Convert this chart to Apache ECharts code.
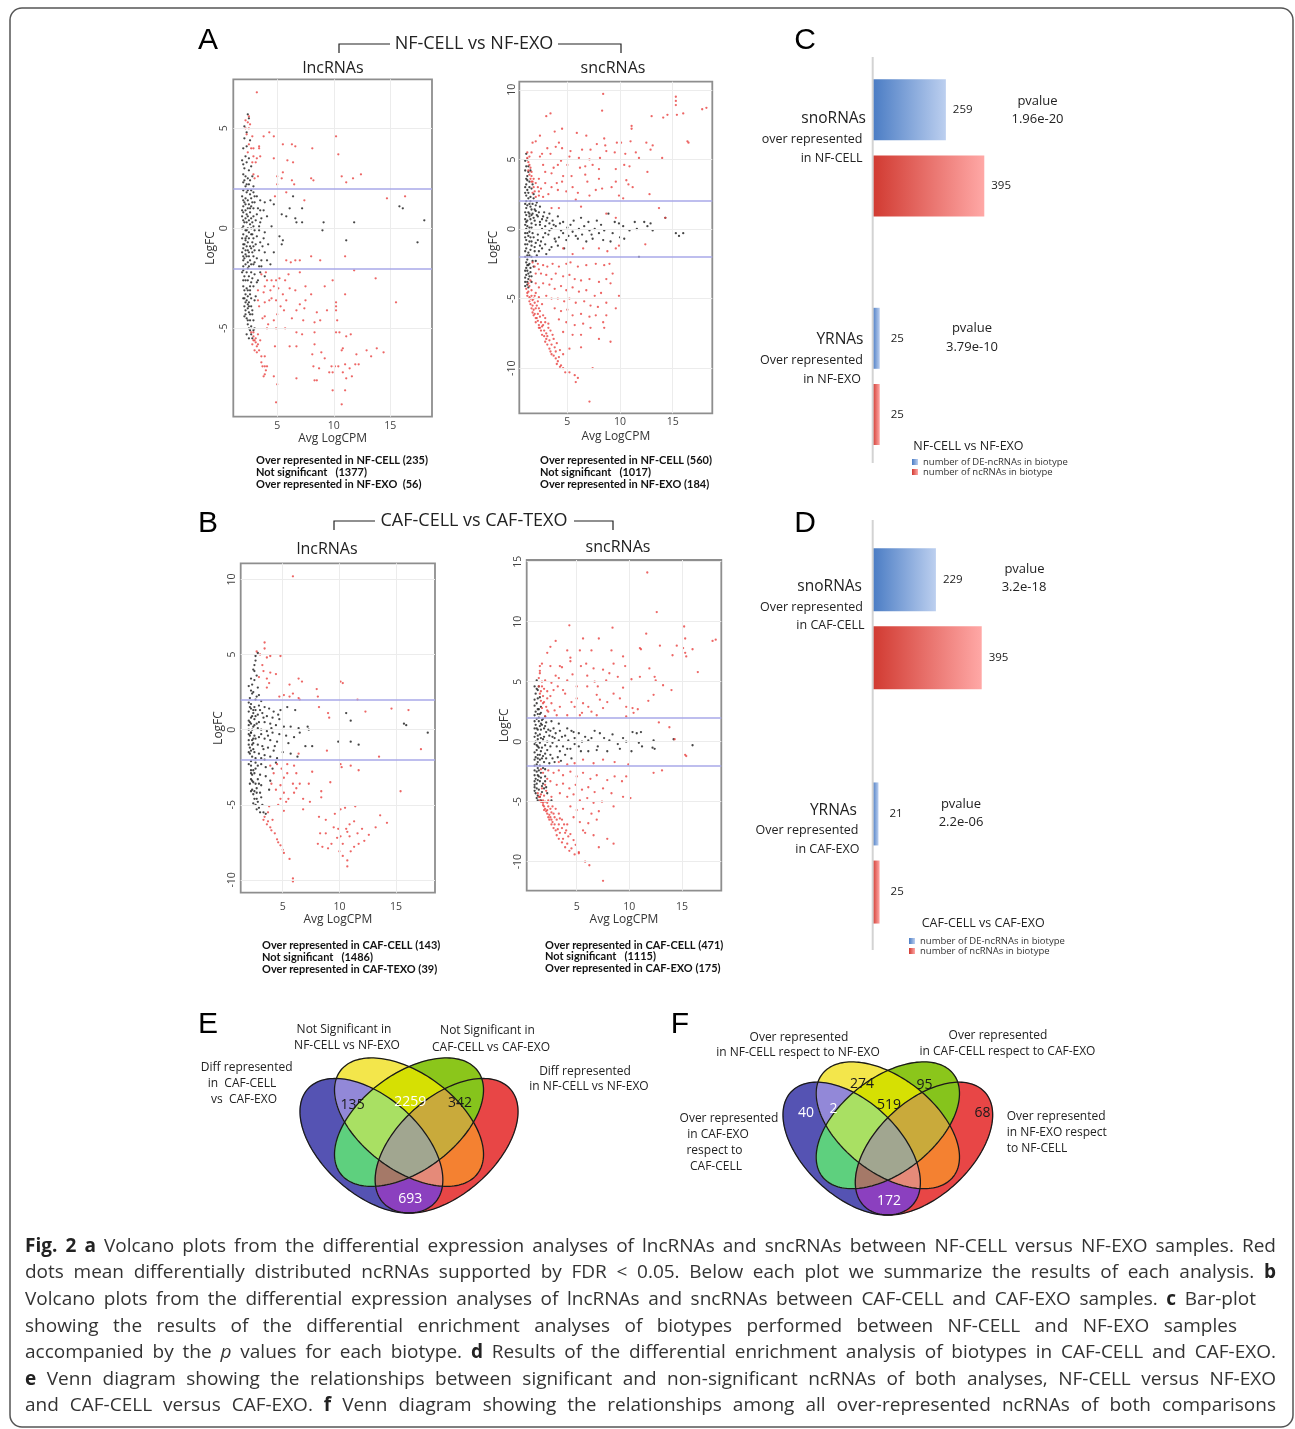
<!DOCTYPE html>
<html><head><meta charset="utf-8">
<script src="https://cdn.jsdelivr.net/npm/echarts@6/dist/echarts.min.js"></script>
<style>
html,body{margin:0;padding:0;background:#fff;}
#chart{position:absolute;left:0;top:0;width:1295px;height:1429px;}
.cap{position:absolute;left:25px;height:26px;line-height:26px;font-family:"Open Sans",sans-serif;font-size:19px;color:#333;white-space:nowrap;}
.cap b{color:#222;}
</style></head>
<body>
<div id="chart"></div>
<div class="cap" style="top:1232px" data-w="1251"><span><b>Fig. 2 a</b> Volcano plots from the differential expression analyses of lncRNAs and sncRNAs between NF-CELL versus NF-EXO samples. Red</span></div>
<div class="cap" style="top:1258px" data-w="1251"><span>dots mean differentially distributed ncRNAs supported by FDR &lt; 0.05. Below each plot we summarize the results of each analysis. <b>b</b></span></div>
<div class="cap" style="top:1285px" data-w="1231"><span>Volcano plots from the differential expression analyses of lncRNAs and sncRNAs between CAF-CELL and CAF-EXO samples. <b>c</b> Bar-plot</span></div>
<div class="cap" style="top:1312px" data-w="1212"><span>showing the results of the differential enrichment analyses of biotypes performed between NF-CELL and NF-EXO samples</span></div>
<div class="cap" style="top:1338px" data-w="1251"><span>accompanied by the <i>p</i> values for each biotype. <b>d</b> Results of the differential enrichment analysis of biotypes in CAF-CELL and CAF-EXO.</span></div>
<div class="cap" style="top:1365px" data-w="1251"><span><b>e</b> Venn diagram showing the relationships between significant and non-significant ncRNAs of both analyses, NF-CELL versus NF-EXO</span></div>
<div class="cap" style="top:1391px" data-w="1251"><span>and CAF-CELL versus CAF-EXO. <b>f</b> Venn diagram showing the relationships among all over-represented ncRNAs of both comparisons</span></div>
<script>
// ---------------- DATA ----------------
const xTicks = [5, 10, 15];
const yTicksLncA = [-5, 0, 5];
const yTicksSncA = [-10, -5, 0, 5, 10];
const yTicksLncB = [-10, -5, 0, 5, 10];
const yTicksSncB = [-10, -5, 0, 5, 10, 15];

// volcano points, flat [AvgLogCPM, LogFC, ...]
const lncA_red = [3.2,6.8,2.5,5.6,2.4,5.3,2.2,5.0,2.5,5.0,2.8,4.6,3.8,4.6,4.3,4.8,4.7,4.6,10.2,4.6,5.5,4.2,6.3,4.2,6.6,4.1,8.1,4.0,3.4,4.1,3.4,4.0,2.9,4.0,2.4,3.8,2.9,3.6,3.2,3.5,3.5,3.6,4.7,3.5,5.9,3.4,6.4,3.3,10.4,3.7,3.1,3.3,2.9,2.7,3.3,2.6,5.0,2.6,5.5,2.8,5.4,2.5,6.3,2.4,6.5,2.2,8.0,2.5,8.2,2.4,10.7,2.6,11.1,2.3,11.7,2.5,12.4,2.7,5.0,2.2,3.0,2.5,
14.7,1.5,16.3,1.6,5.8,1.8,4.8,1.6,7.4,1.4,5.8,-1.6,6.2,-1.7,6.6,-1.6,7.0,-1.6,8.0,-1.4,8.8,-1.6,11.0,-1.4,
11.8,-2.1,9.9,-2.6,13.7,-2.5,9.2,-2.9,7.0,-2.2,3.6,-2.3,4.1,-2.6,4.5,-2.6,4.9,-2.6,5.2,-2.5,5.7,-2.6,3.9,-2.9,4.7,-2.9,3.3,-3.1,3.8,-3.2,4.4,-3.1,5.1,-3.0,6.1,-3.0,6.6,-3.1,5.5,-3.3,4.3,-3.6,3.3,-3.6,3.9,-3.7,4.9,-3.6,5.8,-3.6,7.5,-3.6,6.7,-4.1,7.0,-3.8,7.4,-4.0,8.5,-4.2,9.4,-4.1,10.2,-3.7,10.2,-3.9,10.2,-4.1,11.0,-3.3,15.5,-3.7,5.6,-4.1,3.4,-3.9,3.9,-4.4,4.7,-4.6,4.1,-5.0,4.9,-5.0,5.7,-5.0,7.3,-4.6,8.3,-4.7,8.8,-4.6,6.7,-5.2,8.3,-5.2,10.2,-5.2,10.5,-5.2,11.5,-5.3,11.1,-5.4,2.9,-5.4,3.0,-5.6,3.1,-5.7,3.2,-5.9,2.9,-5.2,4.8,-5.9,6.1,-5.9,6.7,-5.9,8.3,-5.8,10.8,-6.0,10.7,-6.1,12.9,-6.1,13.3,-6.4,13.8,-6.0,14.4,-6.2,3.2,-6.2,3.6,-6.4,3.9,-6.4,8.1,-6.3,8.9,-6.2,12.2,-6.8,11.9,-6.8,11.0,-6.8,11.4,-7.0,10.1,-6.9,9.8,-6.9,10.4,-6.9,8.2,-6.9,3.9,-6.9,4.1,-6.9,9.6,-7.2,9.9,-7.2,10.8,-7.2,11.1,-7.5,11.6,-7.4,3.9,-7.3,3.8,-7.4,4.7,-7.4,6.7,-7.5,8.3,-7.6,8.5,-7.6,5.0,-7.8,9.9,-8.1,11.0,-8.1,4.9,-8.7,10.7,-8.8,2.7,-5.2,2.8,-5.8,3.0,-6.1,
2.9,-5.6,3.1,-5.5,3.3,-5.8,3.4,-6.1,3.6,-6.7,3.7,-6.9,4.0,-7.1,3.5,-5.6,3.3,-5.3,2.2,5.4,2.6,5.2,2.3,4.7,2.5,4.2,2.8,3.3,2.7,4.0,4.0,-2.2,4.5,-3.5,5.3,-3.9,4.2,-4.8,3.7,-4.5,6.3,-4.5,5.0,-4.3,6.0,-2.3,7.5,-2.9,8.0,-3.3,10.3,-4.6,12.0,-6.3,9.2,-6.5,8.7,-7.0,7.2,-5.3];
const lncA_black = [2.5,5.5,2.3,4.8,2.1,4.5,2.0,4.0,2.2,3.6,2.5,3.5,2.7,3.1,2.0,2.7,2.2,2.6,2.4,2.5,2.0,2.3,2.3,2.2,2.2,2.1,2.9,2.1,2.6,2.4,2.1,3.0,
2.0,1.9,2.3,1.8,2.6,1.7,2.9,1.8,3.2,1.6,2.2,1.5,2.4,1.4,2.7,1.5,3.0,1.3,3.5,1.4,3.9,1.3,4.4,1.4,2.0,1.1,2.4,1.0,2.7,1.1,2.9,1.0,3.3,1.0,3.8,0.9,4.7,1.2,6.4,1.6,6.1,1.0,7.2,1.0,5.4,0.7,5.8,0.6,6.6,0.5,6.7,0.3,7.2,0.3,9.1,0.3,9.0,-0.1,11.8,0.3,18.0,0.4,17.4,-0.7,11.1,-0.6,15.8,1.1,16.1,1.0,
2.0,0.8,2.3,0.7,2.6,0.8,2.9,0.6,3.2,0.7,3.6,0.5,4.1,0.6,2.2,0.5,2.5,0.4,2.8,0.3,3.1,0.4,3.5,0.3,4.5,0.1,2.0,0.1,2.4,0.0,2.7,0.0,3.0,-0.1,3.4,-0.1,3.9,-0.2,2.0,-0.3,2.3,-0.4,2.7,-0.3,2.9,-0.5,3.2,-0.4,3.8,-0.5,5.2,-0.4,5.5,-0.6,2.2,-0.6,2.4,-0.7,2.8,-0.7,3.1,-0.8,3.5,-0.7,4.2,-0.8,5.4,-0.8,2.0,-1.0,2.4,-1.1,2.7,-1.0,3.0,-1.1,3.4,-1.1,3.9,-1.2,4.7,-1.2,2.2,-1.3,2.5,-1.4,2.9,-1.4,3.2,-1.5,3.6,-1.6,4.1,-1.6,2.0,-1.6,2.4,-1.7,2.7,-1.8,3.0,-1.7,3.4,-1.9,4.4,-1.8,2.0,-1.9,2.5,-1.9,2.1,1.3,2.1,0.3,2.1,-0.8,2.1,-1.5,2.2,0.9,2.3,-0.1,2.5,-1.2,
2.0,-2.1,2.3,-2.2,2.7,-2.2,3.0,-2.3,3.5,-2.2,3.9,-2.4,2.2,-2.6,2.4,-2.6,2.8,-2.5,3.2,-2.7,2.0,-2.9,2.3,-3.0,2.6,-3.1,2.9,-2.9,2.2,-3.3,2.4,-3.4,2.7,-3.5,3.1,-3.4,2.2,-3.7,2.4,-3.8,2.7,-3.9,2.2,-4.1,2.5,-4.2,2.8,-4.3,2.3,-4.5,2.6,-4.6,2.9,-4.6,2.4,-4.8,2.7,-4.9,2.6,-5.1,2.9,-5.1,2.1,-2.4,2.1,-3.5,2.1,-4.4,2.3,-5.3,2.5,-5.5,2.6,-2.9,2.5,-3.7,2.4,-4.0,
1.9,3.4,2.0,3.2,2.3,3.3,2.1,2.4,2.5,2.2,2.4,1.9,2.7,1.9,1.9,1.6,2.8,1.3,2.0,1.4,2.5,1.2,2.2,1.2,1.9,0.9,2.6,1.0,2.4,0.6,2.7,0.5,1.9,0.6,2.0,0.4,2.3,0.3,2.6,0.2,2.9,0.1,1.9,0.0,2.2,-0.1,2.5,-0.2,2.8,-0.3,1.9,-0.5,2.2,-0.5,2.5,-0.5,2.0,-0.8,2.3,-0.9,2.6,-0.9,2.9,-0.9,1.9,-1.2,2.2,-1.1,2.8,-1.2,2.0,-1.4,2.3,-1.4,2.6,-1.6,2.2,-1.8,2.9,-1.8,1.9,-2.2,2.4,-2.0,2.5,-2.4,2.0,-2.6,2.7,-2.7,2.1,-3.1,2.4,-3.1,2.0,-3.5,2.3,-3.6,2.6,-3.3,2.1,-3.9,2.5,-3.9,2.2,-4.3,2.6,-4.3,2.4,-4.6,2.5,-5.0,2.7,-5.3,2.8,-5.5,3.0,-5.0,2.8,-4.1,3.0,-3.6,3.3,-2.6,3.6,-1.9,3.7,-0.9,3.4,0.1,3.5,0.9,3.0,1.6,2.8,2.6,2.5,2.9,2.3,4.1,2.6,4.4,2.1,5.1,2.4,5.7];

const sncA_red = [8.4,9.7,15.3,9.5,15.3,9.2,15.3,8.9,17.8,8.6,18.2,8.7,8.3,8.5,15.4,8.2,16.0,8.3,14.5,8.2,14.1,8.0,13.0,8.1,11.1,7.4,11.1,7.2,3.4,8.3,3.0,8.1,4.5,7.2,3.8,7.0,5.9,6.9,6.8,6.7,7.8,6.1,8.5,6.5,9.7,6.2,10.1,6.2,11.0,6.3,12.5,6.2,13.1,6.0,12.9,5.7,16.4,6.3,16.5,6.2,2.0,6.3,1.7,6.2,2.4,6.7,4.2,6.2,3.1,5.8,3.4,5.4,4.5,5.8,5.3,5.6,6.4,5.7,7.2,5.7,8.6,6.0,8.7,5.6,9.5,5.5,10.5,5.4,11.5,5.5,11.8,5.1,14.0,5.1,8.1,5.1,5.2,5.2,6.1,5.1,7.1,5.0,2.4,5.2,2.7,4.6,1.6,5.5,1.4,5.2,4.1,4.6,5.0,4.6,6.2,4.4,6.7,4.5,8.0,4.3,9.6,4.3,10.4,4.6,10.9,4.5,12.6,4.1,2.9,4.1,3.5,4.0,4.6,3.8,5.4,3.8,6.9,3.4,8.0,3.6,9.2,3.0,9.6,3.4,10.6,3.5,10.8,3.2,11.2,3.0,12.8,2.5,2.3,3.6,1.7,3.4,4.0,3.3,4.5,3.4,3.5,3.0,5.5,3.0,7.7,2.8,8.3,2.9,9.9,2.4,10.3,2.2,2.3,2.7,2.7,2.3,4.1,2.8,4.9,2.7,6.0,2.6,7.1,2.4,
13.7,1.5,14.3,0.8,3.5,1.5,4.2,1.5,6.3,1.6,8.7,1.1,9.6,0.8,9.9,-1.2,9.6,-1.4,8.8,-1.6,12.4,-1.1,6.5,-1.4,8.0,-1.4,5.5,-1.8,4.6,-1.4,
1.1,-4.3,1.2,-4.8,1.4,-5.2,1.6,-5.7,1.8,-6.2,2.0,-6.7,2.3,-7.1,2.6,-7.6,2.9,-8.1,3.3,-8.6,3.7,-9.1,4.1,-9.5,4.6,-10.0,5.2,-10.3,5.7,-10.5,5.8,-11.0,7.1,-12.4,
1.3,-4.5,1.6,-4.8,1.7,-5.1,1.5,-5.0,1.9,-5.3,2.0,-5.7,1.8,-5.8,2.2,-6.1,2.4,-6.3,2.1,-6.4,2.5,-6.7,2.7,-6.9,2.8,-7.3,2.4,-7.1,3.0,-7.5,3.1,-7.7,3.3,-8.0,3.5,-8.3,3.8,-8.5,3.9,-8.8,4.2,-9.2,3.6,-7.6,3.2,-7.1,2.9,-6.7,2.7,-6.2,2.3,-5.7,2.2,-5.2,1.9,-4.8,1.6,-4.4,1.4,-4.1,
1.7,-2.4,2.2,-2.5,2.7,-2.6,3.1,-2.7,3.6,-2.5,4.2,-2.7,4.9,-2.5,5.3,-2.4,6.0,-2.7,6.8,-2.6,7.7,-2.5,8.5,-2.6,9.0,-2.5,9.3,-3.2,2.5,-3.2,3.0,-3.3,3.5,-3.6,3.9,-3.2,4.6,-3.4,5.2,-3.3,5.7,-3.6,6.3,-3.7,7.1,-3.6,8.0,-3.8,8.7,-3.6,9.1,-3.9,2.7,-3.9,3.3,-4.0,3.8,-4.3,4.4,-4.1,4.9,-4.4,5.5,-4.2,6.1,-4.5,6.8,-4.4,7.6,-4.8,8.2,-4.6,9.9,-4.8,3.0,-4.8,3.5,-5.0,4.1,-5.0,4.7,-5.2,5.2,-5.0,5.8,-5.3,6.6,-5.2,7.2,-5.5,7.9,-5.6,8.7,-5.3,9.6,-5.7,3.8,-5.7,4.4,-5.9,5.0,-5.8,5.5,-6.2,6.3,-6.1,7.1,-6.3,7.7,-6.2,8.4,-6.7,4.2,-6.5,4.9,-6.7,5.7,-6.9,6.5,-6.8,7.2,-7.1,8.5,-7.1,8.7,-6.2,4.6,-7.4,5.5,-7.6,6.3,-7.6,8.0,-7.9,9.1,-8.1,6.3,-8.5,5.2,-8.6,7.4,-10.0,6.0,-10.7,4.8,-10.3,4.3,-9.9,
1.2,5.5,1.3,4.8,1.5,4.4,1.6,3.8,1.6,3.4,1.8,3.0,1.9,2.7,2.0,2.3,2.3,2.4,1.4,4.6,1.6,4.1,2.2,3.0,
1.2,-4.6,1.4,-4.9,1.5,-5.4,1.7,-5.5,1.7,-6.0,1.9,-6.1,2.0,-6.4,2.2,-6.6,2.3,-6.9,2.5,-7.3,2.6,-7.0,2.8,-7.7,3.0,-7.9,3.1,-8.3,3.4,-8.8,3.5,-9.0,3.9,-9.3,4.0,-9.7,4.4,-9.8,2.1,-5.5,2.4,-5.9,2.6,-5.4,2.9,-6.4,3.2,-6.8,3.4,-7.3,3.7,-7.9,4.0,-8.2,4.3,-8.7,4.6,-9.0,1.8,-5.0,2.0,-4.6,2.3,-4.9,1.3,-3.9,1.5,-3.7,2.0,-3.9,2.3,-4.2,2.0,-3.2,2.3,-2.9,1.9,-2.7,1.2,5.1,1.3,4.2,1.5,3.6,1.4,3.9,1.7,2.6,1.8,3.6,2.0,3.3,2.5,2.9,2.9,3.3,3.2,2.5,2.6,5.4,3.7,4.4,4.4,4.9,3.9,5.9,6.7,3.9,7.4,4.6,5.8,2.1];
const sncA_black = [1.1,5.4,1.2,5.0,1.1,4.5,1.3,4.1,1.1,3.6,1.4,3.4,1.1,3.2,1.2,2.8,1.6,2.9,1.1,2.4,1.5,2.3,1.8,2.2,1.1,2.0,1.4,1.8,1.7,1.8,2.0,1.7,2.4,1.6,1.1,1.5,1.6,1.4,2.0,1.3,2.3,1.2,2.8,1.2,3.3,1.1,1.1,1.0,1.4,0.9,1.8,0.8,2.2,0.9,2.6,0.7,3.1,0.8,3.6,0.6,4.1,0.9,4.6,0.5,1.1,0.5,1.6,0.4,2.0,0.3,2.4,0.3,2.9,0.2,3.5,0.0,3.9,0.2,4.4,-0.1,5.0,0.1,5.5,-0.2,6.1,0.0,6.6,0.2,7.1,-0.1,7.6,0.0,8.0,-0.3,8.5,-0.1,8.9,1.1,9.5,0.5,9.9,0.4,10.3,0.2,10.9,-0.1,11.4,0.5,12.3,0.5,12.6,0.2,13.1,-0.1,14.3,0.8,15.3,-0.3,15.6,-0.5,16.0,-0.3,11.8,-2.0,1.1,0.0,1.4,-0.2,1.7,-0.3,2.2,-0.4,2.7,-0.6,3.2,-0.4,3.8,-0.7,4.2,-0.6,4.9,-0.8,6.0,-0.7,6.8,-0.9,7.4,-0.7,8.4,-0.8,9.1,-0.9,10.4,-0.7,1.1,-0.8,1.6,-0.9,2.0,-1.0,2.4,-1.2,2.9,-1.1,3.5,-1.3,4.1,-1.2,4.7,-1.4,1.1,-1.4,1.5,-1.5,1.9,-1.6,2.3,-1.6,3.0,-1.8,1.2,-1.9,1.6,-2.0,2.1,-1.9,1.1,-2.4,1.4,-2.5,1.8,-2.7,1.1,-2.8,1.5,-3.1,1.1,-3.3,1.3,-3.6,1.0,-3.8,1.2,-4.0,1.6,-3.8,
1.3,1.2,1.2,0.2,1.3,-0.5,1.2,-1.1,1.3,-1.7,1.2,-2.2,1.3,-2.6,1.2,-3.0,1.4,-3.4,1.2,3.8,1.3,2.6,1.5,2.0,1.7,1.1,1.9,0.6,1.8,-0.6,1.9,-1.3,2.5,-0.9,2.6,0.0,2.9,-0.3,3.3,0.4,5.3,0.3,5.8,-0.5,6.4,-0.4,7.8,0.6,9.3,-0.3,10.0,-0.6,11.6,0.0,12.9,0.4,1.5,4.2,1.7,3.2,
1.0,4.9,1.3,4.5,1.0,4.2,1.2,3.5,1.0,3.0,1.4,3.0,1.0,2.6,1.3,2.2,1.0,1.8,1.2,1.7,1.5,1.6,1.0,1.2,1.4,1.1,1.6,1.0,1.0,0.7,1.2,0.6,1.5,0.7,1.0,0.3,1.4,0.1,1.6,0.1,1.0,-0.3,1.2,-0.3,1.5,-0.6,1.0,-0.6,1.4,-0.9,1.0,-1.1,1.6,-1.2,1.0,-1.6,1.4,-1.9,1.0,-2.0,1.2,-2.6,1.0,-3.0,1.3,-3.2,1.0,-3.5,1.2,-3.8,1.0,-4.1,1.3,-4.2,2.1,1.0,2.4,0.5,2.7,0.9,3.0,0.6,3.3,-0.1,3.7,0.3,4.3,0.4,4.6,-0.3,5.1,-0.5,5.6,0.6,6.3,0.8,7.0,0.5,7.3,-0.4,8.2,0.3,2.2,-0.8,2.6,-1.4,3.3,-1.5,3.9,-0.9,2.0,-2.3,1.7,-2.3,1.5,-2.8,1.6,-3.4,2.1,1.9,1.8,2.5,1.9,1.4];

const lncB_red = [5.9,10.2,3.4,5.8,2.7,5.2,3.4,5.4,3.9,4.9,4.8,4.9,3.6,4.8,3.3,3.9,3.9,3.8,4.4,3.7,3.6,3.4,3.8,3.1,6.4,3.4,6.7,3.2,5.6,3.0,8.0,2.7,8.1,2.2,10.1,3.2,10.3,3.1,3.6,2.8,4.7,2.2,5.1,2.3,5.6,2.2,5.9,2.4,6.4,2.1,6.5,2.0,11.6,2.0,9.0,1.1,9.1,0.8,12.3,1.2,14.6,1.4,16.1,1.3,8.2,1.5,8.9,-1.4,13.5,-1.8,17.2,-1.3,6.4,-1.6,10.1,-2.3,10.2,-2.5,11.0,-2.4,11.7,-2.7,9.2,-3.5,15.4,-4.1,5.4,-2.3,4.9,-2.6,4.2,-2.9,5.4,-2.9,5.1,-3.2,6.2,-2.9,4.0,-3.6,4.8,-3.7,5.9,-3.6,6.5,-3.6,7.3,-3.6,4.4,-4.0,5.1,-4.2,6.0,-4.2,6.8,-4.6,7.4,-4.8,8.4,-4.1,8.4,-4.5,4.8,-4.6,5.3,-4.8,6.8,-5.3,5.1,-5.4,8.2,-5.8,8.8,-6.0,10.1,-5.3,10.5,-5.2,11.4,-5.1,13.6,-5.7,14.2,-6.2,9.5,-6.5,9.9,-6.6,10.6,-6.6,10.7,-6.8,10.1,-7.1,10.9,-7.1,8.3,-6.9,8.8,-6.9,11.6,-6.9,12.2,-7.4,11.7,-7.6,11.3,-7.8,10.3,-7.6,9.8,-7.2,12.6,-7.0,13.2,-6.5,9.3,-7.6,8.5,-7.8,8.1,-7.6,10.3,-8.4,10.7,-8.7,10.7,-9.1,11.0,-8.1,3.4,-5.8,3.7,-6.1,3.9,-6.5,4.0,-6.7,4.5,-7.3,4.8,-7.7,5.0,-8.0,5.1,-8.2,5.6,-8.6,5.9,-9.9,5.9,-10.1,3.3,-6.0,3.6,-6.3,
3.0,5.0,3.2,4.3,2.9,3.5,3.7,-5.5,4.1,-6.0,4.3,-6.9,4.6,-7.5,3.8,-5.1,4.6,-5.0,5.5,-4.6,6.2,-3.9,7.6,-2.8,6.0,-2.4,4.5,-2.3,3.9,-2.4,9.6,-5.6,10.9,-6.3,11.3,-6.1,12.0,-6.6,9.0,-7.9,10.0,-8.1];
const lncB_black = [2.6,4.6,2.5,4.3,2.5,3.9,2.2,3.4,2.5,3.3,2.0,2.9,2.8,2.8,2.4,2.5,2.9,2.3,2.1,2.1,2.6,2.0,3.1,1.9,2.2,1.7,2.5,1.5,2.9,1.6,3.4,1.5,3.8,1.4,4.2,1.2,4.8,1.3,5.4,1.5,6.1,1.3,2.0,1.2,2.4,1.1,2.8,1.0,3.2,1.1,3.6,0.9,4.1,0.8,4.7,0.7,2.2,0.8,2.5,0.7,2.9,0.5,3.4,0.5,3.9,0.4,4.4,0.3,5.1,0.2,5.7,0.2,6.4,0.1,7.2,0.2,7.3,0.0,2.0,0.3,2.4,0.2,2.8,0.1,3.1,0.0,3.6,-0.1,4.1,-0.2,4.7,-0.3,5.3,-0.4,6.0,-0.5,7.0,-1.1,7.6,-1.1,9.9,-0.8,11.0,-0.8,11.7,-1.0,10.6,1.1,11.0,0.6,15.7,0.4,15.9,0.3,17.8,-0.2,2.2,-0.2,2.5,-0.4,2.9,-0.5,3.4,-0.6,3.9,-0.7,4.5,-0.8,2.0,-0.7,2.4,-0.9,2.8,-1.0,3.2,-1.1,3.7,-1.2,4.2,-1.4,5.0,-1.5,5.7,-1.6,6.3,-1.8,2.1,-1.2,2.5,-1.5,2.9,-1.6,3.4,-1.7,3.9,-1.8,4.5,-1.9,2.2,-2.1,2.6,-2.2,3.1,-2.3,3.5,-2.5,4.1,-2.6,2.2,-2.7,2.5,-2.9,3.0,-3.0,3.5,-3.1,2.2,-3.3,2.6,-3.6,3.1,-3.7,3.8,-4.0,2.3,-4.0,2.7,-4.2,3.1,-4.5,2.5,-4.6,2.8,-4.8,3.2,-5.0,2.9,-5.2,3.3,-5.5,3.5,-5.6,
2.1,-0.4,2.1,0.5,2.1,1.5,2.1,-1.6,2.2,-2.4,2.3,-3.0,2.4,-3.5,2.4,-4.3,2.6,-5.0,2.3,2.4,2.3,0.0,2.3,-1.0,2.6,-1.9,2.6,-2.6,2.8,-3.3,2.7,-3.9,2.6,1.3,2.7,0.4,2.6,-0.6,
2.0,1.8,2.2,1.4,2.4,1.3,2.3,0.9,2.6,0.9,2.0,0.6,2.2,0.4,2.5,0.3,2.0,0.0,2.2,-0.2,2.4,-0.6,2.0,-0.3,2.3,-0.7,2.0,-1.0,2.2,-1.4,2.4,-1.3,2.0,-1.5,2.3,-1.8,2.0,-2.3,2.2,-2.9,2.4,-2.7,2.1,-3.6,2.3,-3.4,2.2,-4.1,2.5,-4.1,2.4,-4.9,2.7,-4.6,2.7,-5.3,3.0,-5.5,3.0,-4.2,2.9,-3.6,2.8,-2.4,3.1,-1.9,3.3,-1.3,3.1,-0.3,3.3,0.8,3.0,1.3,2.7,2.2,2.2,2.6,2.3,3.0,2.7,3.6,2.4,4.0,2.6,4.9,2.8,5.1,3.4,-2.0,3.7,-0.4,4.0,0.1,4.3,-1.1,4.6,1.0,5.5,-0.9,6.5,-0.2,3.9,-3.4,4.4,-2.2];

const sncB_red = [11.7,14.1,12.6,10.8,4.3,9.7,8.4,9.5,15.2,9.6,15.3,8.6,11.6,9.0,5.6,8.6,7.1,8.6,3.0,8.4,17.9,8.4,18.2,8.5,11.0,7.8,11.1,7.7,12.9,8.0,14.5,8.0,15.1,7.8,16.0,7.7,15.3,7.4,15.4,7.1,14.1,7.2,2.5,7.9,2.2,7.4,4.1,7.6,5.3,7.6,6.4,7.6,8.3,7.6,9.4,7.1,4.4,7.0,4.4,6.7,1.7,6.5,1.5,5.9,2.5,6.3,3.4,6.3,3.6,6.2,5.4,6.3,5.9,6.5,6.6,6.1,7.5,6.0,8.5,6.5,9.6,6.3,11.9,6.1,16.5,5.8,12.4,5.4,12.5,5.1,13.2,4.7,14.0,4.3,11.8,3.4,12.3,3.9,11.0,5.4,10.2,5.2,9.4,4.5,8.9,5.4,8.1,5.7,7.8,5.1,6.7,5.0,6.0,4.6,5.0,4.6,4.1,5.1,3.3,5.3,2.6,4.9,2.0,5.1,1.7,4.6,2.2,4.2,2.8,4.3,3.7,4.3,4.5,3.3,5.6,3.2,6.1,2.9,6.9,3.9,7.2,3.5,7.9,3.3,8.5,4.0,9.1,3.6,9.7,2.9,10.3,2.8,10.8,2.7,10.4,2.4,9.7,2.1,7.5,2.8,6.4,2.5,5.5,2.4,4.8,2.9,3.4,2.9,2.6,3.2,2.2,2.6,3.1,2.2,4.1,2.2,1.8,3.2,2.0,2.1,
12.8,1.6,13.8,1.2,14.3,0.2,15.3,-1.1,15.4,-1.2,12.3,-2.6,13.1,-2.4,5.6,-1.5,4.8,-1.8,6.6,-1.8,7.5,-1.5,8.6,-1.7,9.9,-1.9,4.1,-1.9,3.3,-1.7,
1.4,-4.6,1.5,-4.9,1.8,-5.3,2.0,-5.6,2.2,-6.0,2.5,-6.3,2.7,-6.7,2.9,-6.9,3.2,-7.3,3.4,-7.6,3.7,-8.1,4.1,-8.5,4.5,-8.9,5.2,-9.3,5.8,-10.0,6.2,-10.3,7.5,-11.6,
1.7,-5.0,1.9,-5.4,2.2,-5.7,2.4,-6.1,2.6,-6.5,2.8,-6.0,3.1,-6.5,3.3,-6.9,3.6,-7.2,3.9,-7.6,2.5,-5.6,2.2,-5.1,1.8,-4.9,1.6,-4.4,2.3,-4.9,2.7,-5.4,3.3,-6.0,3.6,-6.5,4.1,-6.9,4.2,-7.9,4.7,-8.2,
2.3,-2.4,2.8,-2.6,3.3,-2.4,3.7,-2.8,4.4,-2.5,5.0,-2.9,5.6,-2.6,6.3,-3.1,6.9,-2.8,7.9,-3.2,8.6,-2.9,9.3,-3.3,9.7,-2.9,2.5,-3.3,3.1,-3.6,3.7,-3.5,4.3,-3.9,4.9,-3.6,5.5,-4.0,6.1,-3.8,6.7,-4.2,7.5,-3.9,8.3,-4.3,9.4,-4.6,10.1,-4.7,3.4,-4.3,4.1,-4.6,4.7,-4.4,5.3,-4.9,6.0,-4.7,6.6,-5.1,7.4,-5.0,8.5,-5.4,4.4,-5.4,5.0,-5.7,5.6,-5.6,6.4,-6.0,7.1,-5.8,4.7,-6.3,5.3,-6.7,6.1,-6.8,6.9,-6.5,5.6,-7.4,5.8,-7.6,6.6,-7.8,7.9,-8.1,7.1,-8.8,8.5,-8.5,5.2,-9.2,
1.5,5.7,1.4,5.3,1.6,4.2,1.8,3.8,1.9,3.3,2.1,2.9,2.3,2.5,1.7,2.8,1.5,6.3,
1.3,-4.3,1.5,-4.6,1.6,-5.0,1.8,-5.1,1.9,-5.7,2.1,-5.8,2.3,-6.3,2.4,-6.5,2.6,-6.9,2.8,-7.2,3.0,-7.4,3.1,-7.8,3.3,-8.1,3.6,-8.4,3.9,-8.8,4.3,-9.1,4.8,-9.4,2.0,-5.0,2.3,-5.4,2.6,-5.9,2.9,-6.3,3.0,-5.6,3.4,-6.4,3.8,-6.9,4.0,-7.4,4.4,-7.7,4.9,-8.6,1.9,-4.5,2.1,-4.1,2.6,-4.6,1.7,-3.9,2.0,-3.6,2.2,-3.1,1.8,-2.6,1.6,-2.3,1.4,4.6,1.5,4.0,1.6,3.4,1.7,5.0,1.9,4.4,2.2,3.6,2.5,3.8,2.9,2.6,3.2,4.6,3.0,5.5,3.9,4.0,4.6,5.6,5.0,3.6,6.0,5.5,7.0,4.6,5.3,2.2,6.9,2.2];
const sncB_black = [1.2,5.1,1.4,4.6,1.1,4.0,1.5,3.7,1.2,3.2,1.6,2.9,1.1,2.5,1.5,2.3,2.0,2.1,1.2,1.9,1.7,1.8,2.1,1.6,2.6,1.7,3.3,1.5,1.1,1.4,1.5,1.3,1.9,1.1,2.3,1.0,2.8,1.1,3.4,0.9,4.1,1.1,4.7,0.8,5.2,0.7,1.1,0.7,1.5,0.6,1.9,0.4,2.4,0.5,2.9,0.3,3.6,0.4,4.2,0.1,4.8,0.3,5.5,0.0,6.1,0.1,6.7,0.9,7.2,0.7,8.4,0.6,9.4,0.3,9.7,0.0,10.3,0.8,10.7,0.7,11.1,0.8,10.9,-0.1,11.2,-0.4,12.2,-0.5,12.4,-0.6,12.3,0.1,14.2,0.2,16.0,-0.3,1.1,0.0,1.5,-0.1,2.0,-0.3,2.5,-0.4,3.1,-0.4,3.7,-0.4,4.4,-0.6,5.2,-0.4,6.1,-0.8,6.9,-0.7,7.9,-0.8,9.1,-0.6,10.2,-0.8,1.2,-0.7,1.6,-0.8,2.0,-1.0,2.5,-1.1,3.2,-1.3,3.9,-1.1,4.5,-1.4,1.1,-1.3,1.5,-1.5,1.9,-1.7,2.4,-1.8,2.9,-1.7,1.2,-1.9,1.2,-2.5,1.6,-2.6,2.0,-2.9,1.1,-3.1,1.5,-3.3,1.8,-3.5,1.0,-3.8,1.4,-4.0,1.7,-4.2,1.1,-4.3,1.5,-4.6,2.2,-4.3,2.6,-4.9,
1.3,0.2,1.3,1.0,1.3,-0.4,1.3,-1.1,1.3,-1.7,1.3,-2.2,1.3,-2.8,1.2,-3.5,1.3,4.3,1.3,2.7,1.4,2.0,1.7,1.4,1.8,0.2,1.7,-0.5,1.8,-1.2,2.2,-0.7,2.7,-0.1,3.4,-0.8,5.8,0.4,7.6,0.3,8.9,-0.2,1.6,-3.0,1.9,-3.9,1.3,-4.9,
1.0,4.6,1.2,4.4,1.0,3.5,1.3,3.6,1.0,3.0,1.4,2.7,1.0,2.2,1.3,2.3,1.0,1.7,1.4,1.7,1.6,1.5,1.0,1.1,1.2,1.1,1.6,1.0,1.0,0.4,1.3,0.5,1.6,0.3,1.0,-0.2,1.2,-0.3,1.4,-0.5,1.0,-0.9,1.5,-1.1,1.0,-1.5,1.3,-1.4,1.7,-1.4,1.0,-2.0,1.5,-2.0,1.0,-2.4,1.4,-2.4,1.0,-2.8,1.4,-2.9,1.0,-3.3,1.3,-3.2,1.0,-3.6,1.2,-3.9,1.0,-4.1,1.3,-4.5,1.2,-4.7,1.6,-4.9,2.1,0.8,2.5,0.9,3.0,0.7,2.2,0.0,2.7,0.4,3.3,0.1,3.9,0.5,4.5,0.9,4.1,-0.6,4.8,-0.2,5.4,-0.8,6.4,0.3,7.0,-0.4,8.1,0.1,2.1,-1.4,2.7,-1.4,3.5,-1.6,2.0,-2.3,1.8,-2.2,2.0,-3.3,1.7,-3.7,2.1,-3.8,2.0,1.3,1.8,1.9,1.6,2.4];

// summaries under volcano plots
const sumLncA = [235, 1377, 56];
const sumSncA = [560, 1017, 184];
const sumLncB = [143, 1486, 39];
const sumSncB = [471, 1115, 175];

// enrichment bars
const barCats = ['snoRNAs DE', 'snoRNAs all', '', 'YRNAs DE', 'YRNAs all'];
const deC = [259, 25], allC = [395, 25];
const deD = [229, 21], allD = [395, 25];
const pvalC = ['1.96e-20', '3.79e-10'];
const pvalD = ['3.2e-18', '2.2e-06'];
const nameDE = 'number of DE-ncRNAs in biotype';
const nameAll = 'number of ncRNAs in biotype';

// Venn region counts
const vennE_keys = ['AB', 'BC', 'CD', 'AD'];
const vennE_vals = [135, 2259, 342, 693];
const vennF_keys = ['A', 'AB', 'B', 'BC', 'C', 'D', 'AD'];
const vennF_vals = [40, 2, 274, 519, 95, 68, 172];

// ---------------- HELPERS ----------------
const pairs = a => { const r = []; for (let i = 0; i < a.length; i += 2) r.push([a[i], a[i + 1]]); return r; };
const FF = '"Open Sans", sans-serif';
function T(text, x, y, o = {}) {
  const a = o.a || 'center';
  return { type: 'text', x, y, silent: true, z: 50,
    style: { text, fill: o.c || '#222', font: (o.w || 'normal') + ' ' + (o.s || 12) + 'px ' + (o.f || FF),
      align: a, textAlign: a, verticalAlign: 'middle', textVerticalAlign: 'middle' } };
}
function L(points, o = {}) {
  return { type: 'polyline', silent: true, z: 50, shape: { points }, style: { stroke: o.c || '#222', lineWidth: o.w || 1.2, fill: 'none' } };
}

// ---------------- VOLCANO ----------------
const volLayout = [
  { left: 233.3, top: 79.3, width: 198.7, height: 337.4, xmin: 1.12, xmax: 18.68, ymin: -9.42, ymax: 7.45, yt: yTicksLncA, ylm: 3.5, yng: 17, xlm: 4, xng: 14.5, red: lncA_red, black: lncA_black },
  { left: 519.3, top: 81.7, width: 193, height: 331.6, xmin: 0.44, xmax: 18.76, ymin: -13.24, ymax: 10.58, yt: yTicksSncA, ylm: 1.5, yng: 20, xlm: 3.5, xng: 17, red: sncA_red, black: sncA_black },
  { left: 240.7, top: 563.3, width: 194.3, height: 329.4, xmin: 1.29, xmax: 18.44, ymin: -10.85, ymax: 11.07, yt: yTicksLncB, ylm: 3, yng: 16, xlm: 8.5, xng: 21, red: lncB_red, black: lncB_black },
  { left: 526.7, top: 560, width: 194.6, height: 330.7, xmin: 0.25, xmax: 18.73, ymin: -12.42, ymax: 15.14, yt: yTicksSncB, ylm: 3.5, yng: 16, xlm: 11, xng: 19, red: sncB_red, black: sncB_black }
];
const grids = [], xAxes = [], yAxes = [], series = [];
volLayout.forEach((v, i) => {
  grids.push({ left: v.left, top: v.top, width: v.width, height: v.height, show: true, borderColor: '#8e8e8e', borderWidth: 1.8, backgroundColor: 'transparent', containLabel: false, outerBoundsMode: 'none' });
  xAxes.push({ gridIndex: i, type: 'value', min: v.xmin, max: v.xmax, axisLine: { show: false }, axisTick: { show: false }, splitLine: { show: false },
    axisLabel: { customValues: xTicks, fontSize: 10.5, color: '#444', margin: v.xlm, fontFamily: FF },
    name: 'Avg LogCPM', nameLocation: 'middle', nameGap: v.xng, nameTextStyle: { fontSize: 12, color: '#333', fontFamily: FF } });
  yAxes.push({ gridIndex: i, type: 'value', min: v.ymin, max: v.ymax, axisLine: { show: false }, axisTick: { show: false }, splitLine: { show: false },
    axisLabel: { customValues: v.yt, rotate: 90, fontSize: 10.5, color: '#444', margin: v.ylm, fontFamily: FF },
    name: 'LogFC', nameLocation: 'middle', nameGap: v.yng, nameTextStyle: { fontSize: 12, color: '#333', fontFamily: FF } });
  series.push({ type: 'scatter', xAxisIndex: i, yAxisIndex: i, data: pairs(v.black), symbolSize: 2.3, silent: true,
    itemStyle: { color: '#262626', opacity: 0.85 },
    markLine: { silent: true, symbol: 'none', label: { show: false }, animation: false, lineStyle: { color: '#ececec', width: 1, type: 'solid' },
      data: xTicks.map(t => ({ xAxis: t })).concat(v.yt.map(t => ({ yAxis: t }))) }, z: 2 });
  series.push({ type: 'scatter', xAxisIndex: i, yAxisIndex: i, data: pairs(v.red), symbolSize: 2.3, silent: true,
    itemStyle: { color: '#e8403e', opacity: 0.8 },
    markLine: { silent: true, symbol: 'none', label: { show: false }, animation: false, lineStyle: { color: '#a8a8e8', width: 1.6, type: 'solid' },
      data: [{ yAxis: 2 }, { yAxis: -2 }] }, z: 3 });
});

// ---------------- BARS ----------------
const barLayout = [
  { left: 872.7, top: 71.6, width: 141.25, height: 381, bw: 61, de: deC, all: allC },
  { left: 872.7, top: 540.6, width: 138, height: 390.5, bw: 63, de: deD, all: allD }
];
const gradBlue = { type: 'linear', x: 0, y: 0, x2: 1, y2: 0, colorStops: [{ offset: 0, color: '#4a7cc4' }, { offset: 1, color: '#bccfef' }] };
const gradRed = { type: 'linear', x: 0, y: 0, x2: 1, y2: 0, colorStops: [{ offset: 0, color: '#d13a31' }, { offset: 1, color: '#ffa8a6' }] };
const barItem = v => ({ value: v, label: { distance: v < 50 ? 11 : 7 } });
barLayout.forEach((b, j) => {
  const gi = 4 + j;
  grids.push({ left: b.left, top: b.top, width: b.width, height: b.height, show: false, containLabel: false, outerBoundsMode: 'none' });
  xAxes.push({ gridIndex: gi, type: 'value', min: 0, max: 500, show: false });
  yAxes.push({ gridIndex: gi, type: 'category', data: barCats, inverse: true, show: false });
  const lab = { show: true, position: 'right', fontSize: 11.5, color: '#222', fontFamily: FF };
  series.push({ type: 'bar', name: nameDE, xAxisIndex: gi, yAxisIndex: gi, barWidth: b.bw, barGap: '-100%', silent: true,
    itemStyle: { color: gradBlue }, label: lab,
    data: [barItem(b.de[0]), '-', '-', barItem(b.de[1]), '-'] });
  series.push({ type: 'bar', name: nameAll, xAxisIndex: gi, yAxisIndex: gi, barWidth: b.bw, barGap: '-100%', silent: true,
    itemStyle: { color: gradRed }, label: lab,
    data: ['-', barItem(b.all[0]), '-', '-', barItem(b.all[1])] });
});

// ---------------- VENN ----------------
const ELL = [[0.35, 0.47, -45], [0.5, 0.57, -40], [0.5, 0.57, 40], [0.65, 0.47, 45]];
const VENN_FILL = { A: '#5553b3', B: '#f3e64b', C: '#8bc61b', D: '#e84646', AB: '#9288d8', AC: '#5ed07e', AD: '#8b40bf', BC: '#d6e003', BD: '#f48131', CD: '#86c41c',
  ABC: '#a9e063', ABD: '#e58a79', ACD: '#a57968', BCD: '#c9aa3b', ABCD: '#a1a690' };
const LABEL_AT = { A: [0.16, 0.623], AB: [0.275, 0.642], B: [0.393, 0.747], BC: [0.505, 0.655], C: [0.652, 0.743], CD: [0.703, 0.651], D: [0.893, 0.623], AD: [0.505, 0.245] };
function ellPts(e) {
  const [cx, cy, ang] = e, a = 0.35, b = 0.2, t = ang * Math.PI / 180, pts = [];
  for (let i = 0; i < 160; i++) { const s = i / 160 * 2 * Math.PI;
    pts.push([cx + a * Math.cos(s) * Math.cos(t) - b * Math.sin(s) * Math.sin(t), cy + a * Math.cos(s) * Math.sin(t) + b * Math.sin(s) * Math.cos(t)]); }
  return pts;
}
function clipPoly(subj, cp) {
  let out = subj;
  for (let i = 0; i < cp.length && out.length; i++) {
    const A = cp[i], B = cp[(i + 1) % cp.length], inp = out; out = [];
    const side = p => (B[0] - A[0]) * (p[1] - A[1]) - (B[1] - A[1]) * (p[0] - A[0]);
    for (let j = 0; j < inp.length; j++) {
      const P = inp[j], Q = inp[(j + 1) % inp.length], sp = side(P), sq = side(Q);
      if (sp >= 0) out.push(P);
      if ((sp >= 0) !== (sq >= 0)) { const r = sp / (sp - sq); out.push([P[0] + (Q[0] - P[0]) * r, P[1] + (Q[1] - P[1]) * r]); }
    }
  }
  return out;
}
const ELL_PTS = ELL.map(ellPts);
const COMBOS = [];
for (let m = 1; m < 16; m++) { let k = ''; for (let b = 0; b < 4; b++) if (m & (1 << b)) k += 'ABCD'[b]; COMBOS.push(k); }
COMBOS.sort((p, q) => p.length - q.length);
const REGION_POLY = {};
COMBOS.forEach(k => { let poly = ELL_PTS['ABCD'.indexOf(k[0])]; for (let i = 1; i < k.length; i++) poly = clipPoly(poly, ELL_PTS['ABCD'.indexOf(k[i])]); REGION_POLY[k] = poly; });

function vennSeries(keys, vals, box, light) {
  const P = p => [box.ox + (p[0] - 0.065) * box.sx, box.oy - (p[1] - 0.185) * box.sy];
  return { type: 'custom', coordinateSystem: 'none', silent: true, animation: false, z: 5,
    data: keys.map((k, i) => ({ name: k, value: vals[i] })),
    renderItem(params, api) {
      const k = keys[params.dataIndex], ch = [];
      if (params.dataIndex === 0) {
        COMBOS.forEach(c => { const poly = REGION_POLY[c]; if (poly.length >= 3)
          ch.push({ type: 'polygon', shape: { points: poly.map(P) }, style: { fill: VENN_FILL[c], stroke: VENN_FILL[c], lineWidth: 0.6 } }); });
        ELL_PTS.forEach(pts => ch.push({ type: 'polygon', shape: { points: pts.map(P) }, style: { fill: 'none', stroke: '#1a1a1a', lineWidth: 1.3 } }));
      }
      const xy = P(LABEL_AT[k]);
      ch.push({ type: 'text', x: xy[0], y: xy[1], style: { text: String(api.value(0)), fill: light.indexOf(k) >= 0 ? '#ffffff' : '#1a1a1a',
        font: '14px ' + FF, align: 'center', verticalAlign: 'middle', textAlign: 'center', textVerticalAlign: 'middle' } });
      return { type: 'group', children: ch };
    } };
}
series.push(vennSeries(vennE_keys, vennE_vals, { ox: 300, oy: 1213, sx: 250.6, sy: 236 }, ['BC', 'AD']));
series.push(vennSeries(vennF_keys, vennF_vals, { ox: 783, oy: 1215, sx: 241, sy: 233 }, ['A', 'AB', 'AD']));

// ---------------- TEXT / DECORATION ----------------
const G = [];
G.push({ type: 'rect', silent: true, z: 0, shape: { x: 10, y: 8, width: 1283, height: 1419, r: 12 }, style: { fill: 'none', stroke: '#555', lineWidth: 1.5 } });
[['A', 208, 41], ['B', 208, 524], ['C', 805, 41], ['D', 805, 524], ['E', 208, 1025], ['F', 680, 1025]].forEach(p => G.push(T(p[0], p[1], p[2], { s: 30, f: '"Liberation Sans", Arial, sans-serif', c: '#000' })));
G.push(T('NF-CELL vs NF-EXO', 474, 44, { s: 18 }));
G.push(L([[339, 53], [339, 44], [390, 44]]), L([[558, 44], [621, 44], [621, 53]]));
G.push(T('CAF-CELL vs CAF-TEXO', 474, 521, { s: 18 }));
G.push(L([[334, 530], [334, 521], [375, 521]]), L([[574, 521], [613, 521], [613, 530]]));
G.push(T('lncRNAs', 333, 68, { s: 16 }), T('sncRNAs', 613, 68, { s: 16 }), T('lncRNAs', 327, 549, { s: 16 }), T('sncRNAs', 618, 547, { s: 16 }));
function summary(x, y0, dy, v, g1, g2) {
  const lines = ['Over represented in ' + g1 + ' (' + v[0] + ')', 'Not significant   (' + v[1] + ')', 'Over represented in ' + g2 + ' (' + v[2] + ')'];
  lines.forEach((s, i) => G.push(T(s, x, y0 + i * dy, { a: 'left', s: 11, w: 'bold', f: 'Lato, sans-serif', c: '#111' })));
}
summary(256, 460, 12, sumLncA, 'NF-CELL', 'NF-EXO ');
summary(540, 460, 12, sumSncA, 'NF-CELL', 'NF-EXO');
summary(262, 945.7, 11.7, sumLncB, 'CAF-CELL', 'CAF-TEXO');
summary(545, 945, 11.7, sumSncB, 'CAF-CELL', 'CAF-EXO');
G.push(L([[872.7, 57], [872.7, 463]], { c: '#d3d3d3', w: 2 }), L([[872.7, 520], [872.7, 950]], { c: '#d3d3d3', w: 2 }));
G.push(T('snoRNAs', 866, 119, { a: 'right', s: 15.5 }), T('over represented', 862.5, 139.5, { a: 'right', s: 12.5 }), T('in NF-CELL', 862.5, 158, { a: 'right', s: 12.5 }));
G.push(T('YRNAs', 863.5, 340, { a: 'right', s: 15.5 }), T('Over represented', 863, 360.7, { a: 'right', s: 12.5 }), T('in NF-EXO', 861, 379.3, { a: 'right', s: 12.5 }));
G.push(T('pvalue', 1037.5, 101, { s: 13 }), T(pvalC[0], 1037.5, 119.3, { s: 13 }), T('pvalue', 972, 328.7, { s: 13 }), T(pvalC[1], 972, 347.3, { s: 13 }));
G.push(T('NF-CELL vs NF-EXO', 913.3, 446, { a: 'left', s: 12.5 }));
G.push(T('snoRNAs', 862, 587, { a: 'right', s: 15.5 }), T('Over represented', 863, 607.3, { a: 'right', s: 12.5 }), T('in CAF-CELL', 864.5, 625.7, { a: 'right', s: 12.5 }));
G.push(T('YRNAs', 857, 811, { a: 'right', s: 15.5 }), T('Over represented', 858.5, 830.3, { a: 'right', s: 12.5 }), T('in CAF-EXO', 859.5, 849, { a: 'right', s: 12.5 }));
G.push(T('pvalue', 1024.5, 569, { s: 13 }), T(pvalD[0], 1024, 587.3, { s: 13 }), T('pvalue', 961, 804.3, { s: 13 }), T(pvalD[1], 961, 822.7, { s: 13 }));
G.push(T('CAF-CELL vs CAF-EXO', 921.7, 923.3, { a: 'left', s: 12.5 }));
G.push(T('Not Significant in', 344, 1030, { s: 12 }), T('NF-CELL vs NF-EXO', 347, 1045.7, { s: 12 }));
G.push(T('Not Significant in', 487.5, 1031, { s: 12 }), T('CAF-CELL vs CAF-EXO', 491, 1047.7, { s: 12 }));
G.push(T('Diff represented', 246.7, 1067.7, { s: 12 }), T('in  CAF-CELL', 242, 1084, { s: 12 }), T('vs  CAF-EXO', 244, 1100, { s: 12 }));
G.push(T('Diff represented', 585, 1071.7, { s: 12 }), T('in NF-CELL vs NF-EXO', 589, 1086.7, { s: 12 }));
G.push(T('Over represented', 799, 1037.3, { s: 12 }), T('in NF-CELL respect to NF-EXO', 798, 1053, { s: 12 }));
G.push(T('Over represented', 998, 1035.7, { s: 12 }), T('in CAF-CELL respect to CAF-EXO', 1007.5, 1051.7, { s: 12 }));
G.push(T('Over represented', 729, 1118.3, { s: 12 }), T('in CAF-EXO', 718, 1134.3, { s: 12 }), T('respect to', 714.5, 1150.7, { s: 12 }), T('CAF-CELL', 716, 1166.7, { s: 12 }));
G.push(T('Over represented', 1006.7, 1116.7, { a: 'left', s: 12 }), T('in NF-EXO respect', 1006.7, 1132.7, { a: 'left', s: 12 }), T('to NF-CELL', 1006.7, 1149, { a: 'left', s: 12 }));

const legendBase = { orient: 'vertical', itemWidth: 6, itemHeight: 6, itemGap: 0, icon: 'rect', selectedMode: false,
  textStyle: { fontSize: 9.5, color: '#333', fontFamily: FF }, data: [nameDE, nameAll], padding: 0 };

const chart = echarts.init(document.getElementById('chart'), null, { renderer: 'canvas' });
chart.setOption({
  animation: false,
  backgroundColor: '#ffffff',
  textStyle: { fontFamily: FF },
  grid: grids, xAxis: xAxes, yAxis: yAxes, series,
  legend: [Object.assign({ left: 912, top: 457 }, legendBase), Object.assign({ left: 909, top: 936 }, legendBase)],
  graphic: { elements: G }
});

document.querySelectorAll('.cap').forEach(d => {
  const W = +d.dataset.w, sp = d.firstElementChild;
  const w = sp.getBoundingClientRect().width, n = (sp.textContent.match(/ /g) || []).length;
  if (n) sp.style.wordSpacing = ((W - w) / n) + 'px';
});
</script>
</body></html>
